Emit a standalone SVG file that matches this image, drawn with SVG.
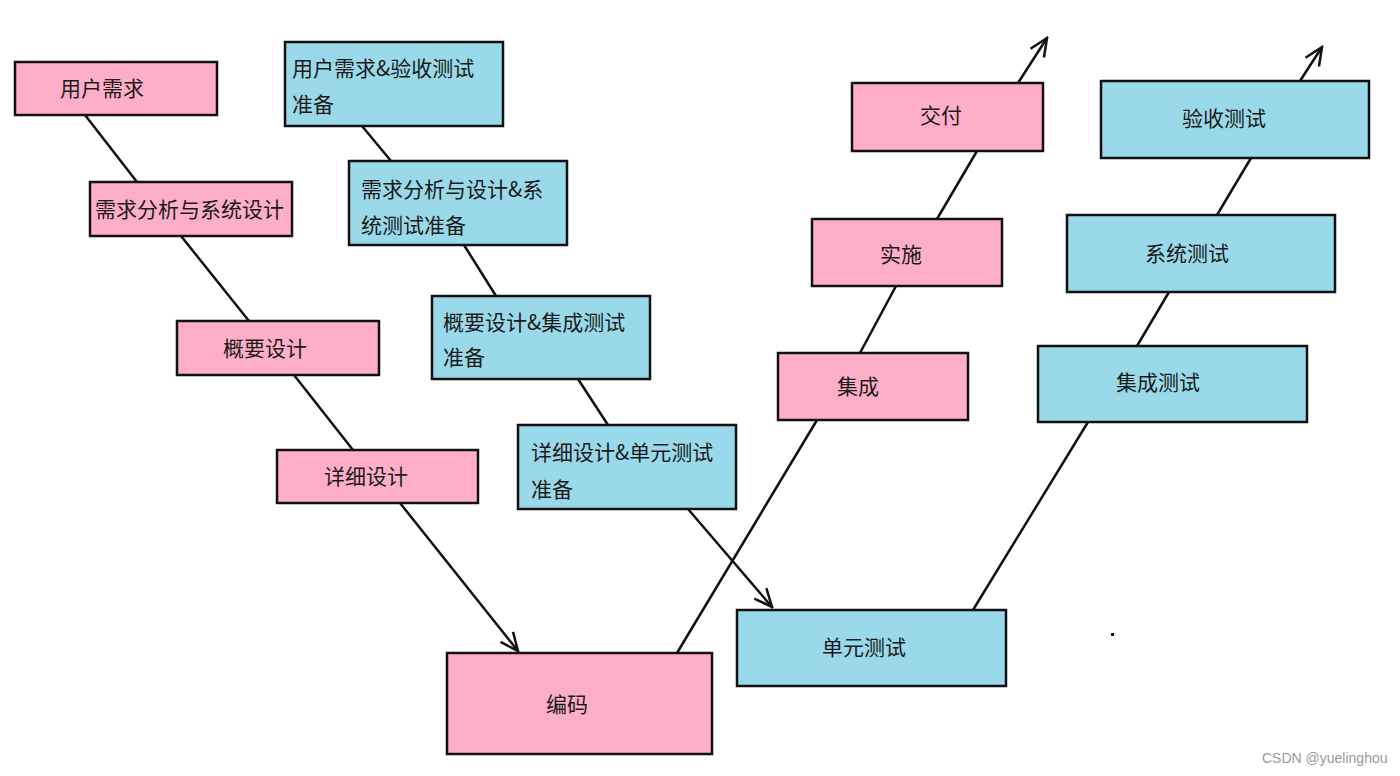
<svg xmlns="http://www.w3.org/2000/svg" width="1400" height="776" viewBox="0 0 1400 776">
<defs>
<style>
.p{fill:#FFAEC9;stroke:#111;stroke-width:2.5}
.b{fill:#99D9EA;stroke:#111;stroke-width:2.5}
text{font-family:"Noto Sans CJK SC","Microsoft YaHei",sans-serif;font-size:21px;fill:#1a1a1a}
.c line{stroke:#111;stroke-width:2.5;stroke-linecap:round}
.wm{font-family:"Liberation Sans",Arial,sans-serif;font-size:14px;fill:#999}
</style>
<marker id="ah" viewBox="-20 -10 22 20" refX="0" refY="0" markerWidth="22" markerHeight="20" markerUnits="userSpaceOnUse" orient="auto">
<path d="M-18,-8 L0,0 L-18,8" fill="none" stroke="#111" stroke-width="2.5" stroke-linejoin="miter"/>
</marker>
</defs>
<rect width="1400" height="776" fill="#fff"/>
<g class="c" id="connectors">
<line x1="85" y1="115" x2="137" y2="182"/>
<line x1="181" y1="236" x2="249" y2="321"/>
<line x1="294" y1="375" x2="353" y2="450"/>
<line x1="400" y1="503" x2="518" y2="651" marker-end="url(#ah)"/>
<line x1="362" y1="126" x2="391" y2="161"/>
<line x1="464" y1="245" x2="496" y2="296"/>
<line x1="578" y1="379" x2="608" y2="425"/>
<line x1="688" y1="509" x2="772" y2="607" marker-end="url(#ah)"/>
<line x1="677" y1="653" x2="817" y2="420"/>
<line x1="860" y1="353" x2="896" y2="286"/>
<line x1="937" y1="219" x2="977" y2="151"/>
<line x1="1018" y1="83" x2="1047" y2="38" marker-end="url(#ah)"/>
<line x1="973" y1="610" x2="1088" y2="422"/>
<line x1="1137" y1="346" x2="1169" y2="292"/>
<line x1="1217" y1="215" x2="1251" y2="158"/>
<line x1="1300" y1="81" x2="1322" y2="47" marker-end="url(#ah)"/>
</g>
<g id="n1"><rect class="p" x="15" y="62" width="202" height="53"/><text x="60" y="96">用户需求</text></g>
<g id="n2"><rect class="p" x="90" y="182" width="202" height="54"/><text x="95" y="217">需求分析与系统设计</text></g>
<g id="n3"><rect class="p" x="177" y="321" width="202" height="54"/><text x="223" y="356">概要设计</text></g>
<g id="n4"><rect class="p" x="277" y="450" width="201" height="53"/><text x="324" y="484">详细设计</text></g>
<g id="n5"><rect class="p" x="447" y="653" width="265" height="101"/><text x="546" y="712">编码</text></g>
<g id="b1"><rect class="b" x="285" y="42" width="218" height="84"/><text x="292" y="76">用户需求&amp;验收测试</text><text x="292" y="112">准备</text></g>
<g id="b2"><rect class="b" x="349" y="161" width="218" height="84"/><text x="361" y="197">需求分析与设计&amp;系</text><text x="361" y="233">统测试准备</text></g>
<g id="b3"><rect class="b" x="432" y="296" width="218" height="83"/><text x="443" y="330">概要设计&amp;集成测试</text><text x="443" y="365">准备</text></g>
<g id="b4"><rect class="b" x="518" y="425" width="218" height="84"/><text x="531" y="460">详细设计&amp;单元测试</text><text x="531" y="497">准备</text></g>
<g id="b5"><rect class="b" x="737" y="610" width="269" height="76"/><text x="822" y="655">单元测试</text></g>
<g id="p6"><rect class="p" x="778" y="353" width="190" height="67"/><text x="837" y="394">集成</text></g>
<g id="p7"><rect class="p" x="812" y="219" width="190" height="67"/><text x="880" y="262">实施</text></g>
<g id="p8"><rect class="p" x="852" y="83" width="191" height="68"/><text x="920" y="123">交付</text></g>
<g id="b6"><rect class="b" x="1038" y="346" width="269" height="76"/><text x="1116" y="390">集成测试</text></g>
<g id="b7"><rect class="b" x="1067" y="215" width="268" height="77"/><text x="1145" y="261">系统测试</text></g>
<g id="b8"><rect class="b" x="1101" y="81" width="268" height="77"/><text x="1182" y="126">验收测试</text></g>
<rect x="1111" y="633" width="3" height="3" fill="#111"/>
<text class="wm" x="1262" y="763">CSDN @yuelinghou</text>
</svg>
